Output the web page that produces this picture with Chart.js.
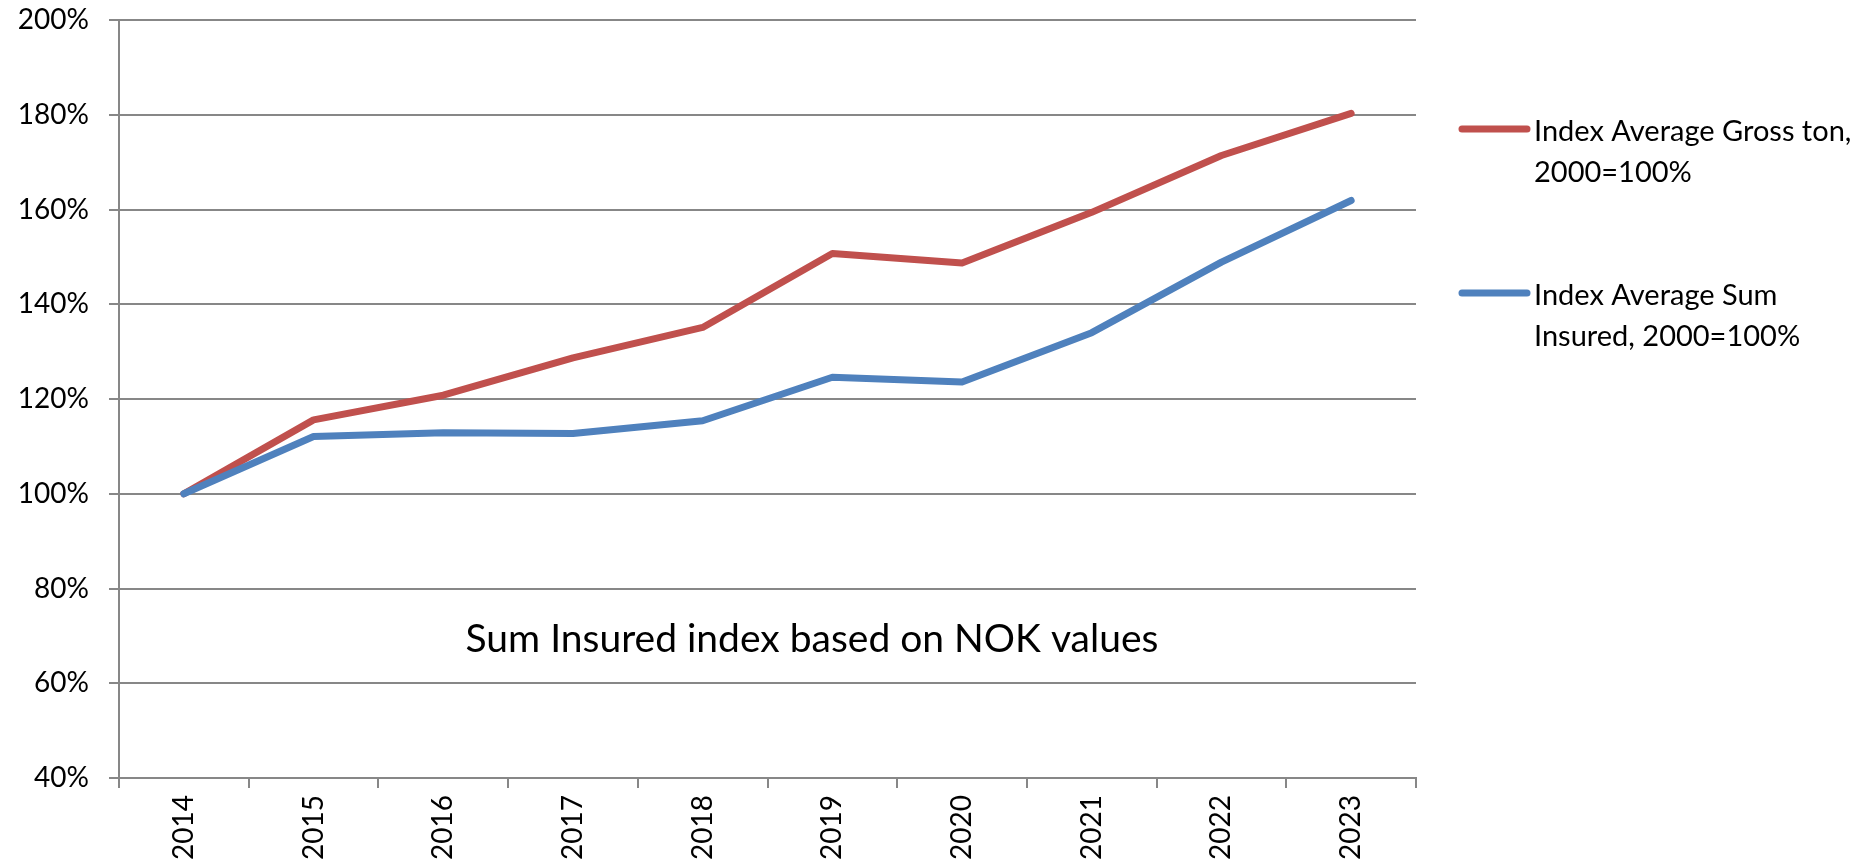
<!DOCTYPE html>
<html>
<head>
<meta charset="utf-8">
<script src="https://cdn.jsdelivr.net/npm/chart.js@4.4.1/dist/chart.umd.min.js"></script>
<style>
  html, body { margin: 0; padding: 0; background: #fff; }
  #wrap { width: 1865px; height: 866px; position: relative; }
</style>
</head>
<body>
<div id="wrap"><canvas id="indexChart"></canvas></div>
<script>
const years = ["2014", "2015", "2016", "2017", "2018", "2019", "2020", "2021", "2022", "2023"];
const grossTonIndex = [100, 115.6, 120.8, 128.7, 135.1, 150.7, 148.7, 159.4, 171.4, 180.3];
const sumInsuredIndex = [100, 112.1, 112.9, 112.7, 115.4, 124.6, 123.6, 134.0, 148.9, 161.9];
const grossTonLabel = ["Index Average Gross ton,", "2000=100%"];
const sumInsuredLabel = ["Index Average Sum", "Insured, 2000=100%"];
const noteText = "Sum Insured index based on NOK values";

const FONT = "Lato, 'Open Sans', sans-serif";
const GRID = "#878787";

// legend on the right, two-line labels
const sideLegend = {
  id: "sideLegend",
  afterDraw(chart) {
    const c = chart.ctx;
    const rows = [
      { y: 129, lines: grossTonLabel, color: "#C0504D" },
      { y: 293, lines: sumInsuredLabel, color: "#4F81BD" },
    ];
    c.save();
    c.font = "29px " + FONT;
    c.fillStyle = "#000";
    c.textBaseline = "middle";
    c.textAlign = "left";
    rows.forEach((r) => {
      c.strokeStyle = r.color;
      c.lineWidth = 7;
      c.lineCap = "round";
      c.beginPath();
      c.moveTo(1462, r.y);
      c.lineTo(1527, r.y);
      c.stroke();
      r.lines.forEach((t, i) => c.fillText(t, 1534, r.y + 3 + i * 41));
    });
    c.restore();
  },
};

// text note inside the plot
const noteLabel = {
  id: "noteLabel",
  afterDatasetsDraw(chart) {
    const c = chart.ctx;
    c.save();
    c.font = "39px " + FONT;
    c.fillStyle = "#000";
    c.textAlign = "center";
    c.textBaseline = "middle";
    c.fillText(noteText, 812, 639);
    c.restore();
  },
};

new Chart(document.getElementById("indexChart"), {
  type: "line",
  data: {
    labels: years,
    datasets: [
      {
        label: grossTonLabel.join(" "),
        data: grossTonIndex,
        borderColor: "#C0504D",
        borderWidth: 7,
        order: 1,
      },
      {
        label: sumInsuredLabel.join(" "),
        data: sumInsuredIndex,
        borderColor: "#4F81BD",
        borderWidth: 7,
        order: 0,
      },
    ],
  },
  options: {
    responsive: true,
    maintainAspectRatio: false,
    animation: false,
    layout: { padding: { top: 20, right: 449, left: 0, bottom: 0 } },
    elements: {
      line: { tension: 0, borderCapStyle: "round", borderJoinStyle: "round", fill: false },
      point: { radius: 0, hoverRadius: 0 },
    },
    plugins: {
      legend: { display: false },
      tooltip: { enabled: false },
    },
    scales: {
      x: {
        offset: true,
        grid: {
          offset: true,
          drawOnChartArea: false,
          drawTicks: true,
          tickLength: 10,
          color: GRID,
          lineWidth: 2,
        },
        border: { color: GRID, width: 2 },
        ticks: {
          minRotation: 90,
          maxRotation: 90,
          padding: 7,
          color: "#000",
          font: { family: FONT, size: 28 },
        },
        afterFit(s) { s.height = 88; },
      },
      y: {
        min: 40,
        max: 200,
        grid: { color: GRID, lineWidth: 2, tickLength: 10 },
        border: { color: GRID, width: 2 },
        ticks: {
          stepSize: 20,
          padding: 20,
          color: "#000",
          font: { family: FONT, size: 28 },
          callback: (v) => v + "%",
        },
        afterFit(s) {
          s.width = 119;
          s.paddingTop = 0;
          s.paddingBottom = 0;
        },
      },
    },
  },
  plugins: [sideLegend, noteLabel],
});
</script>
</body>
</html>
